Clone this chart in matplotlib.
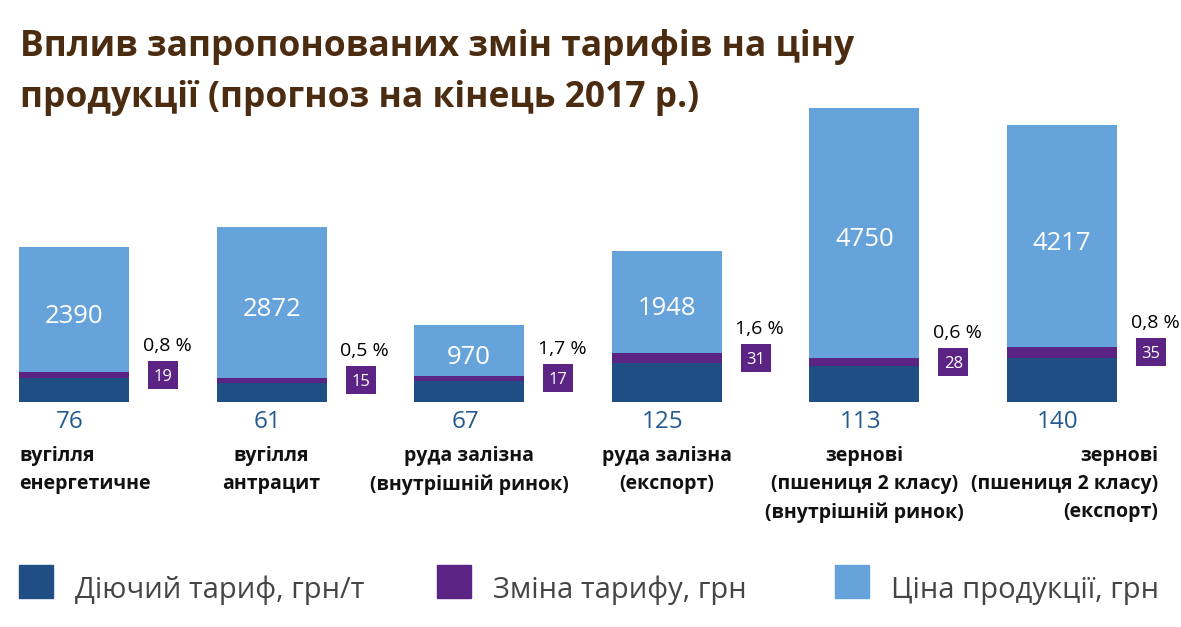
import matplotlib
matplotlib.use("Agg")
import matplotlib.pyplot as plt
from matplotlib.patches import Rectangle

plt.rcParams['font.family'] = ['Open Sans', 'DejaVu Sans']

categories = [
    "вугілля\nенергетичне",
    "вугілля\nантрацит",
    "руда залізна\n(внутрішній ринок)",
    "руда залізна\n(експорт)",
    "зернові\n(пшениця 2 класу)\n(внутрішній ринок)",
    "зернові\n(пшениця 2 класу)\n(експорт)",
]
tariff = [76, 61, 67, 125, 113, 140]          # діючий тариф, грн/т
tariff_change = [19, 15, 17, 31, 28, 35]      # зміна тарифу, грн
price = [2390, 2872, 970, 1948, 4750, 4217]   # ціна продукції, грн
change_pct = ["0,8 %", "0,5 %", "1,7 %", "1,6 %", "0,6 %", "0,8 %"]

# the price segment is drawn at 1/6 of the tariff scale, as in the original
PRICE_SCALE = 1 / 6

DARK = "#1f4e85"
PURPLE = "#5b2383"
LIGHT = "#65a3da"
TITLE_COLOR = "#4b2c10"

W, H = 1181, 627
PX = 0.315        # pixels per unit
PITCH = 197.6     # pixels between bars
X0 = 74           # centre of the first bar, px
BASE = 402        # bar baseline, px from top


def main():
    fig = plt.figure(figsize=(W / 100, H / 100), dpi=100)
    ax = fig.add_axes([0, 0, 1, 1])
    ax.set_xlim(-X0 / PITCH, (W - X0) / PITCH)
    ax.set_ylim(-(H - BASE) / PX, BASE / PX)
    ax.axis("off")

    xs = list(range(len(categories)))
    bw = 110 / PITCH
    price_h = [p * PRICE_SCALE for p in price]
    mid = [t + c for t, c in zip(tariff, tariff_change)]

    ax.bar(xs, tariff, width=bw, color=DARK)
    ax.bar(xs, tariff_change, bottom=tariff, width=bw, color=PURPLE)
    ax.bar(xs, price_h, bottom=mid, width=bw, color=LIGHT)

    box_dx = 89 / PITCH
    box_w = 30 / PITCH
    box_h = 28 / PX
    for i in xs:
        # price value inside the bar
        ax.text(i, mid[i] + price_h[i] / 2 - 4 / PX, str(price[i]), color="white",
                fontsize=18.5, ha="center", va="center_baseline")
        # current tariff below the bar
        ax.text(i - 0.02, -17 / PX, str(tariff[i]), color="#245b8f",
                fontsize=17.5, ha="center", va="center_baseline")
        # purple box with tariff change
        cy = tariff[i] + tariff_change[i] / 2
        ax.add_patch(Rectangle((i + box_dx - box_w / 2, cy - box_h / 2),
                               box_w, box_h, color=PURPLE, lw=0))
        ax.text(i + box_dx, cy, str(tariff_change[i]), color="white",
                fontsize=12, ha="center", va="center_baseline")
        ax.text(i + box_dx + 0.02, cy + 31 / PX, change_pct[i], color="black",
                fontsize=14, ha="center", va="center_baseline")

    # category labels
    label_y = -(446 - BASE) / PX
    for i, lab in enumerate(categories):
        if i == 0:
            x, ha = i - bw / 2, "left"
        elif i == len(categories) - 1:
            x, ha = i + 96 / PITCH, "right"
        else:
            x, ha = i, "center"
        ax.text(x, label_y, lab, fontsize=14, fontweight="bold",
                ha=ha, va="top", multialignment=ha,
                linespacing=1.55, color="#111111")

    fig.text(20 / W, 1 - 29 / H,
             "Вплив запропонованих змін тарифів на ціну\nпродукції (прогноз на кінець 2017 р.)",
             fontsize=25.5, fontweight="bold",
             color=TITLE_COLOR, ha="left", va="top", linespacing=1.55)

    # legend
    legend_items = [("Діючий тариф, грн/т", DARK, 19),
                    ("Зміна тарифу, грн", PURPLE, 437),
                    ("Ціна продукції, грн", LIGHT, 835)]
    for text, color, x in legend_items:
        fig.patches.append(Rectangle((x / W, 1 - 598 / H), 34 / W, 33 / H,
                                     color=color, transform=fig.transFigure,
                                     figure=fig))
        fig.text((x + 56) / W, 1 - 598 / H, text, fontsize=21,
                 color="#454545", ha="left", va="baseline")

    fig.savefig("out.png", dpi=100)


if __name__ == "__main__":
    main()
